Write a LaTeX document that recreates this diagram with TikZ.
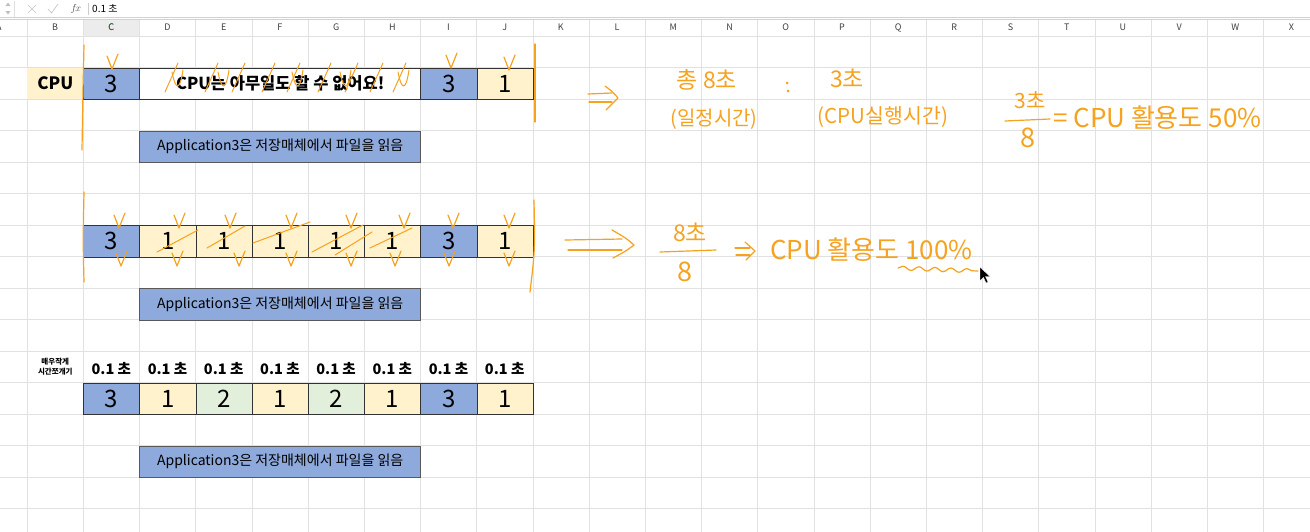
\documentclass[tikz,border=0pt]{standalone}
\usepackage{fontspec}
\setmainfont{Noto Sans CJK KR}
\usetikzlibrary{decorations.pathmorphing}

\definecolor{cpublue}{HTML}{8EA9DB}
\definecolor{appyellow}{HTML}{FFF2CC}
\definecolor{appgreen}{HTML}{E2EFDA}
\definecolor{gridgray}{HTML}{E1E1E1}
\definecolor{pen}{HTML}{F6A21E}
\definecolor{xlgreen}{HTML}{217346}

\begin{document}
\begin{tikzpicture}[x=56.2pt,y=-31.5pt,
  cell/.style={draw=black!80, line width=.6pt, minimum width=56.2pt,
    minimum height=31.5pt, inner sep=0pt, anchor=north west,
    font=\fontsize{24}{24}\selectfont},
  p3/.style={cell,fill=cpublue},
  p1/.style={cell,fill=appyellow},
  p2/.style={cell,fill=appgreen},
  appbox/.style={cell,minimum width=281pt,fill=cpublue,draw=black!65,
    font=\fontsize{14}{14}\selectfont},
  tick/.style={font=\bfseries\fontsize{14.5}{14.5}\selectfont},
  colhead/.style={font=\fontsize{9}{9}\selectfont, text=black!75},
  hand/.style={draw=pen, line width=1.2pt, line cap=round, line join=round},
  handtext/.style={text=pen, inner sep=0pt},
  vmark/.pic={\draw[hand] (-5,-7) -- (0,6) -- (6,-9);}
  ]
  % page = 1310 x 531 screen pixels
  \useasboundingbox (-0.480427,-1.142857) rectangle (22.829181,15.714286);
  \fill[white] (-0.480427,-1.142857) rectangle (22.829181,15.714286);

  % sheet grid
  \fill[gray!15] (1,-0.54) rectangle (2,0);
  \foreach \c in {0,...,22}
    \draw[gridgray, line width=.6pt] (\c,-0.54) -- (\c,15.8);
  \foreach \r in {0,...,15}
    \draw[gridgray, line width=.6pt] (-0.49,\r) -- (22.83,\r);
  \node (hdrA) [colhead] at (-0.5,-0.27) {A};
  \foreach \l [count=\i from 0] in {B,...,X}
    \node (hdr\l) [colhead] at (\i+0.5,-0.27) {\l};
  \node [colhead, text=xlgreen] at (hdrC) {C};

  % formula bar
  \begin{scope}[x=1pt,y=-1pt,shift={(-27pt,36pt)}]
    \fill[gray!50] (5.5,6) -- (10.5,6) -- (8,2.5) -- cycle;
    \fill[gray!50] (5.5,11) -- (10.5,11) -- (8,14.5) -- cycle;
    \draw[gray!25] (14,1) -- (14,17);
    \draw[gray!45, line width=.7pt] (28,5) -- (36,13) (36,5) -- (28,13);
    \draw[gray!45, line width=.7pt] (48,9) -- (51.5,13) -- (58,4);
    \node (fx) [text=black!70, font=\fontsize{10}{10}\selectfont] at (76,9) {$f\!x$};
    \draw[gray!40] (88,3) -- (88,15);
    \node (fval) [anchor=west, inner sep=0pt, font=\fontsize{10}{10}\selectfont] at (92,9) {0.1 초};
    \draw[gray!35] (0,17.5) -- (1310,17.5);
    \draw[gray!35] (0,19.5) -- (1310,19.5);
  \end{scope}

  % first timeline
  \node (cpu) [cell, draw=none, fill=appyellow,
    font=\bfseries\fontsize{17}{17}\selectfont] at (0,1) {CPU};
  \node (r1c) [p3] at (1,1) {3};
  \node (idle) [cell, minimum width=281pt, fill=white,
    font=\bfseries\fontsize{16.5}{17}\selectfont] at (2,1) {CPU는 아무일도 할 수 없어요!};
  \node (r1i) [p3] at (7,1) {3};
  \node (r1j) [p1] at (8,1) {1};
  \node (app1) [appbox] at (2,3) {Application3은 저장매체에서 파일을 읽음};

  % second timeline
  \node (r2c) [p3] at (1,6) {3};
  \node (r2d) [p1] at (2,6) {1};
  \node (r2e) [p1] at (3,6) {1};
  \node (r2f) [p1] at (4,6) {1};
  \node (r2g) [p1] at (5,6) {1};
  \node (r2h) [p1] at (6,6) {1};
  \node (r2i) [p3] at (7,6) {3};
  \node (r2j) [p1] at (8,6) {1};
  \node (app2) [appbox] at (2,8) {Application3은 저장매체에서 파일을 읽음};

  % third timeline, sliced
  \node (slice) [anchor=north west, minimum width=56.2pt, minimum height=31.5pt,
    align=center, font=\bfseries\fontsize{7.5}{10}\selectfont] at (0,10) {매우작게\\시간쪼개기};
  \foreach \c in {1,...,8}
    \node (t\c) [tick] at (\c+0.5,10.55) {0.1 초};
  \node (r3c) [p3] at (1,11) {3};
  \node (r3d) [p1] at (2,11) {1};
  \node (r3e) [p2] at (3,11) {2};
  \node (r3f) [p1] at (4,11) {1};
  \node (r3g) [p2] at (5,11) {2};
  \node (r3h) [p1] at (6,11) {1};
  \node (r3i) [p3] at (7,11) {3};
  \node (r3j) [p1] at (8,11) {1};
  \node (app3) [appbox] at (2,13) {Application3은 저장매체에서 파일을 읽음};

  % pen marks, screen pixels
  \begin{scope}[x=1pt,y=-1pt,shift={(-27pt,36pt)}]
    \draw[hand] (84,45) .. controls (83,90) .. (82,150);
    \draw[hand] (535,44) -- (535,122);
    \pic at (112,63) {vmark};
    \pic at (451,62) {vmark};
    \pic at (509,64) {vmark};
    \foreach \x in {165,205,232,262,287,318,345,370,393}
      \draw[hand, line width=1pt] (\x,92) -- (\x+13,63);
    \foreach \x in {172,218,292,340,398}
      \draw[hand, line width=1pt] (\x,72) .. controls (\x+4,92) and (\x+8,90) .. (\x+11,70);

    \draw[hand] (84,192) .. controls (83,240) .. (84,282);
    \draw[hand] (534,200) .. controls (535,250) .. (530,292);
    \foreach \x in {119,179,230,291,351,404,453,509}
      \pic at (\x,222) {vmark};
    \foreach \x in {121,177,239,291,351,395,449,509}
      \pic at (\x,260) {vmark};
    \draw[hand, line width=1pt] (157,252) -- (198,230);
    \draw[hand, line width=1pt] (207,248) -- (245,226);
    \draw[hand, line width=1pt] (253,243) -- (310,222);
    \draw[hand, line width=1pt] (312,252) -- (363,225);
    \draw[hand, line width=1pt] (370,248) -- (412,228);
    \draw[hand, line width=1pt] (335,255) -- (372,232);

    % first result
    \draw[hand] (588,94) -- (612,93);
    \draw[hand] (589,102) -- (612,102);
    \draw[hand] (605,86) .. controls (613,92) .. (618,98) .. controls (612,104) .. (606,110);
    \node (tot) [handtext, font=\fontsize{23}{23}\selectfont] at (707,80) {총 8초};
    \fill[pen] (787,83) circle (1.5);
    \fill[pen] (788,91) circle (1.5);
    \node (run) [handtext, font=\fontsize{23}{23}\selectfont] at (847,78) {3초};
    \node (idlet) [handtext, font=\fontsize{20}{20}\selectfont] at (714,119) {(일정시간)};
    \node (runt) [handtext, font=\fontsize{20.5}{20.5}\selectfont] at (883,117) {(CPU실행시간)};
    \node (num1) [handtext, font=\fontsize{21}{21}\selectfont] at (1030,100) {3초};
    \draw[hand] (1005,121) -- (1050,119);
    \node (den1) [handtext, font=\fontsize{27}{27}\selectfont] at (1028,138) {8};
    \node (use1) [handtext, anchor=west, font=\fontsize{26}{26}\selectfont] at (1053,118) {= CPU 활용도 50\%};

    % second result
    \draw[hand] (565,240) -- (622,239);
    \draw[hand] (568,250) -- (622,250);
    \draw[hand] (612,230) .. controls (626,238) .. (634,245) .. controls (626,251) .. (613,258);
    \node (num2) [handtext, font=\fontsize{23}{23}\selectfont] at (690,232) {8초};
    \draw[hand] (660,252) -- (716,250);
    \node (den2) [handtext, font=\fontsize{27}{27}\selectfont] at (685,272) {8};
    \draw[hand] (735,248) -- (750,248);
    \draw[hand] (736,255) -- (750,255);
    \draw[hand] (745,242) -- (755,251) -- (746,260);
    \node (use2) [handtext, anchor=west, font=\fontsize{26}{26}\selectfont] at (770,250) {CPU 활용도 100\%};
    \draw[hand, decorate, decoration={snake, amplitude=2pt, segment length=16pt}] (898,268) -- (978,271);
    \filldraw[fill=black, draw=white, line width=.4pt] (980,267) -- (980,281) -- (983.5,277.5)
      -- (986,283) -- (988,282) -- (985.5,276.5) -- (990,276.5) -- cycle;
  \end{scope}
\end{tikzpicture}
\end{document}
